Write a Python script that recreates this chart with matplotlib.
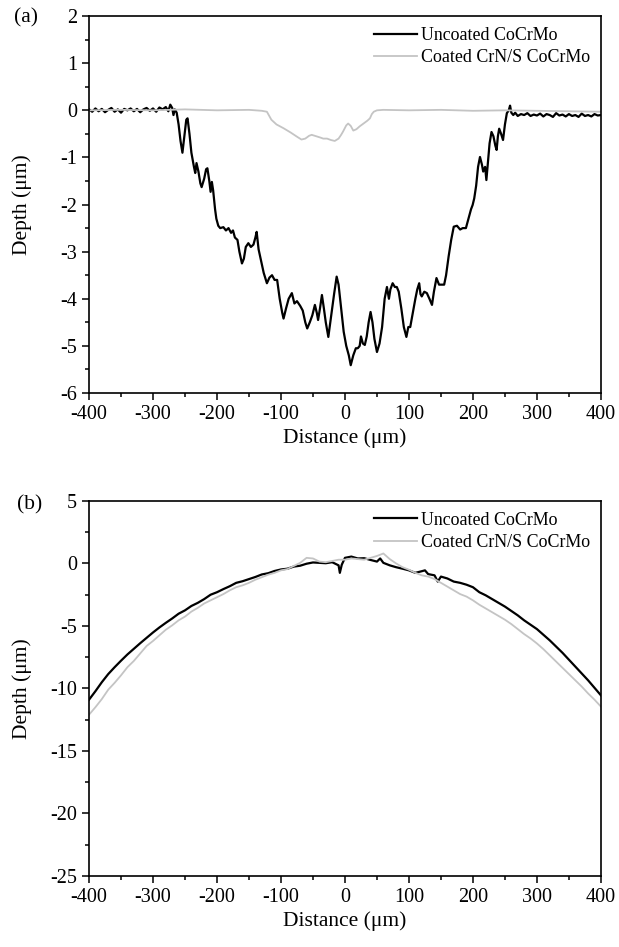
import numpy as np
import matplotlib
matplotlib.use("Agg")
import matplotlib.pyplot as plt
from matplotlib.ticker import MultipleLocator

plt.rcParams['font.family'] = ['Liberation Serif', 'DejaVu Serif']
plt.rcParams['axes.unicode_minus'] = False

# ---- panel (a): wear scar depth profiles ----
xa_unc = [-400, -395, -390, -385, -380, -375, -370, -365, -360, -355, -350, -345, -340, -335,
          -330, -325, -320, -315, -310, -305, -300, -295, -290, -285, -280, -276, -273, -270,
          -268, -266, -263, -260, -257, -254, -251, -248, -246, -243, -240, -236, -234, -232,
          -229, -226, -224, -220, -217, -215, -212, -210, -208, -206, -203, -201, -198, -195,
          -190, -186, -182, -178, -175, -172, -168, -165, -161, -158, -155, -151, -147, -143,
          -140, -138, -135, -131, -127, -122, -118, -114, -110, -106, -102, -98, -96, -92, -88,
          -83, -79, -75, -70, -66, -62, -59, -55, -51, -47, -44, -42, -39, -36, -33, -30, -26,
          -22, -17, -13, -10, -6, -2, 2, 6, 9, 13, 17, 20, 23, 25, 28, 31, 34, 37, 40, 43, 46,
          50, 54, 58, 62, 65.6, 68.7, 71, 74.5, 78, 81, 84, 88, 92, 96, 99, 102, 106, 110, 113,
          116, 118, 120, 124, 128, 132, 136, 139, 143, 147, 151, 155, 158, 162, 166, 170, 175,
          180, 184, 189, 193, 197, 199.5, 202, 205, 208, 211, 214, 216, 219, 221, 224, 226, 229,
          232, 235, 237, 239, 241, 244, 247, 250, 253, 256, 258, 260, 263, 266, 270, 275, 280,
          285, 290, 295, 300, 305, 310, 315, 320, 325, 330, 335, 340, 345, 350, 355, 360, 365,
          370, 375, 380, 385, 390, 395, 400]
ya_unc = [0.02, -0.03, 0.04, -0.02, 0.03, -0.04, 0.01, 0.05, -0.03, 0.02, -0.05, 0.03, 0.00, 0.04,
          -0.02, 0.03, -0.04, 0.02, 0.05, -0.01, 0.04, -0.03, 0.06, 0.02, 0.07, -0.02, 0.12, 0.05,
          -0.10, 0.02, -0.05, -0.30, -0.65, -0.90, -0.55, -0.20, -0.17, -0.50, -0.90, -1.20, -1.33, -1.12,
          -1.30, -1.55, -1.63, -1.45, -1.25, -1.23, -1.50, -1.73, -1.52, -1.70, -2.10, -2.30, -2.45, -2.50,
          -2.48, -2.55, -2.50, -2.60, -2.55, -2.70, -2.75, -3.00, -3.25, -3.15, -2.90, -2.82, -2.90, -2.85,
          -2.70, -2.58, -2.95, -3.20, -3.45, -3.67, -3.55, -3.50, -3.60, -3.60, -4.00, -4.30, -4.42, -4.20, -4.00,
          -3.88, -4.10, -4.05, -4.15, -4.25, -4.50, -4.63, -4.50, -4.35, -4.13, -4.30, -4.45, -4.20, -3.92, -4.20, -4.50, -4.81,
          -4.40, -3.90, -3.53, -3.70, -4.20, -4.70, -5.00, -5.20, -5.41, -5.20, -5.05, -5.05, -5.00, -4.80, -4.95, -4.98, -4.80, -4.50, -4.28, -4.50, -4.85,
          -5.13, -4.95, -4.60, -4.00, -3.75, -4.00, -3.80, -3.67, -3.75, -3.75, -3.85, -4.20, -4.60, -4.81, -4.60, -4.60, -4.30, -4.00, -3.80,
          -3.67, -3.90, -3.95, -3.85, -3.88, -4.00, -4.13, -3.85, -3.56, -3.70, -3.70, -3.70, -3.50, -3.10, -2.75, -2.47, -2.45,
          -2.53, -2.50, -2.50, -2.30, -2.10, -2.01, -1.87, -1.60, -1.20, -0.99, -1.15, -1.30, -1.20, -1.48, -1.00, -0.70, -0.46,
          -0.55, -0.75, -0.84, -0.55, -0.39, -0.50, -0.63, -0.30, -0.06, 0.00, 0.10, -0.05, -0.10, -0.05, -0.12, -0.08, -0.10,
          -0.06, -0.12, -0.09, -0.11, -0.07, -0.13, -0.08, -0.10, -0.14, -0.06, -0.11, -0.09, -0.13, -0.08, -0.12, -0.10, -0.14,
          -0.07, -0.12, -0.10, -0.13, -0.08, -0.11, -0.10]

xa_coat = [-400, -350, -300, -250, -200, -150, -130, -122, -115, -107, -96, -85, -75, -68, -62, -56,
           -52, -45, -38, -34, -28, -22, -16, -10, -6, -3, 2, 5, 9, 13, 18, 23, 29, 35, 39, 42, 45,
           50, 60, 100, 150, 200, 250, 300, 350, 400]
ya_coat = [0.00, 0.01, 0.00, 0.02, 0.00, 0.01, -0.01, -0.03, -0.20, -0.30, -0.38, -0.47, -0.56, -0.62, -0.60, -0.54,
           -0.52, -0.55, -0.58, -0.60, -0.60, -0.63, -0.65, -0.60, -0.52, -0.45, -0.32, -0.28, -0.33, -0.43, -0.40, -0.34, -0.28, -0.22, -0.17, -0.08, -0.03,
           0.00, 0.01, 0.00, 0.01, -0.01, 0.00, -0.01, -0.02, -0.03]

# ---- panel (b): counterface (ball) profiles ----
xb_unc = [-400, -390, -380, -370, -360, -350, -340, -330, -320, -310, -300, -290, -280, -270, -260,
          -250, -240, -230, -220, -210, -200, -190, -180, -170, -160, -150, -140, -130, -120, -110,
          -100, -90, -80, -70, -60, -50, -40, -30, -20, -10, -8, -5, 0, 10, 20, 30, 40, 50, 55, 60,
          70, 80, 90, 100, 110, 120, 125, 130, 140, 145, 150, 160, 170, 180, 190, 200, 210, 220,
          230, 240, 250, 260, 270, 280, 290, 300, 310, 320, 330, 340, 350, 360, 370, 380, 390, 400]
yb_unc = [-10.90, -10.22, -9.50, -8.85, -8.30, -7.78, -7.28, -6.83, -6.38, -5.95, -5.52, -5.12, -4.75, -4.40, -4.02,
          -3.75, -3.40, -3.15, -2.85, -2.50, -2.30, -2.05, -1.82, -1.55, -1.42, -1.25, -1.08, -0.88, -0.78, -0.60,
          -0.48, -0.42, -0.25, -0.18, -0.02, 0.08, 0.05, 0.02, 0.10, -0.15, -0.75, -0.10, 0.45, 0.55, 0.40, 0.42, 0.28, 0.15, 0.40, 0.05,
          -0.15, -0.30, -0.42, -0.55, -0.75, -0.62, -0.55, -0.85, -0.95, -1.45, -1.05, -1.20, -1.45, -1.55, -1.70, -1.90, -2.30, -2.55,
          -2.85, -3.15, -3.45, -3.80, -4.15, -4.55, -4.90, -5.25, -5.70, -6.15, -6.65, -7.15, -7.70, -8.25, -8.80, -9.35, -9.95, -10.55]

xb_coat = [-400, -390, -380, -370, -360, -350, -340, -330, -320, -310, -300, -290, -280, -270, -260,
           -250, -240, -230, -220, -210, -200, -190, -180, -170, -160, -150, -140, -130, -120, -110,
           -100, -90, -80, -70, -60, -50, -40, -30, -20, -10, 0, 10, 20, 30, 40, 50, 60, 70, 80, 90,
           100, 110, 120, 130, 140, 150, 160, 170, 180, 190, 200, 210, 220, 230, 240, 250, 260, 270,
           280, 290, 300, 310, 320, 330, 340, 350, 360, 370, 380, 390, 400]
yb_coat = [-12.10, -11.50, -10.85, -10.10, -9.55, -8.95, -8.30, -7.80, -7.20, -6.60, -6.20, -5.75, -5.30, -4.95, -4.55,
           -4.25, -3.85, -3.55, -3.20, -2.95, -2.70, -2.45, -2.15, -1.90, -1.75, -1.55, -1.30, -1.10, -0.90, -0.75,
           -0.55, -0.45, -0.20, 0.05, 0.45, 0.40, 0.15, 0.10, 0.20, 0.30, 0.30, 0.40, 0.35, 0.30, 0.45, 0.60, 0.80, 0.35, 0.00, -0.30,
           -0.50, -0.75, -0.95, -1.05, -1.25, -1.55, -1.85, -2.15, -2.45, -2.65, -2.95, -3.30, -3.60, -3.90, -4.20, -4.50, -4.85, -5.25,
           -5.65, -6.00, -6.40, -6.85, -7.35, -7.85, -8.35, -8.85, -9.35, -9.85, -10.40, -10.90, -11.45]

labels = ['Uncoated CoCrMo', 'Coated CrN/S CoCrMo']
grey = '#c4c4c4'


def style_axes(ax, ylo, yhi, ystep):
    ax.set_xlim(-400, 400)
    ax.set_ylim(ylo, yhi)
    ax.xaxis.set_major_locator(MultipleLocator(100))
    ax.xaxis.set_minor_locator(MultipleLocator(50))
    ax.yaxis.set_major_locator(MultipleLocator(ystep))
    ax.yaxis.set_minor_locator(MultipleLocator(ystep / 2))
    ax.tick_params(which='both', direction='out', top=False, right=False, labelsize=14.5, width=1.1)
    ax.tick_params(which='major', length=5)
    ax.tick_params(which='minor', length=3)
    for s in ax.spines.values():
        s.set_linewidth(1.2)
    ax.set_xlabel('Distance (μm)', fontsize=15.5, labelpad=3)
    ax.set_ylabel('Depth (μm)', fontsize=15.5)
    ax.yaxis.set_label_coords(-0.112, 0.5)
    ax.legend(loc='upper right', frameon=False, fontsize=12.9, handlelength=2.4,
              handletextpad=0.2, labelspacing=0.3, borderaxespad=0.2)


fig = plt.figure(figsize=(6.19, 9.47), dpi=100)

ax1 = fig.add_axes([0.1438, 0.585, 0.827, 0.398])
ax1.plot(xa_unc, ya_unc, color='black', lw=1.6, label=labels[0])
ax1.plot(xa_coat, ya_coat, color=grey, lw=1.3, label=labels[1])
style_axes(ax1, -6, 2, 1)
fig.text(0.022, 0.981, '(a)', fontsize=15.5, va='center')

ax2 = fig.add_axes([0.1438, 0.075, 0.827, 0.396])
ax2.plot(xb_unc, yb_unc, color='black', lw=1.6, label=labels[0])
ax2.plot(xb_coat, yb_coat, color=grey, lw=1.3, label=labels[1])
style_axes(ax2, -25, 5, 5)
fig.text(0.027, 0.467, '(b)', fontsize=15.5, va='center')

fig.savefig('out.png', dpi=100)
